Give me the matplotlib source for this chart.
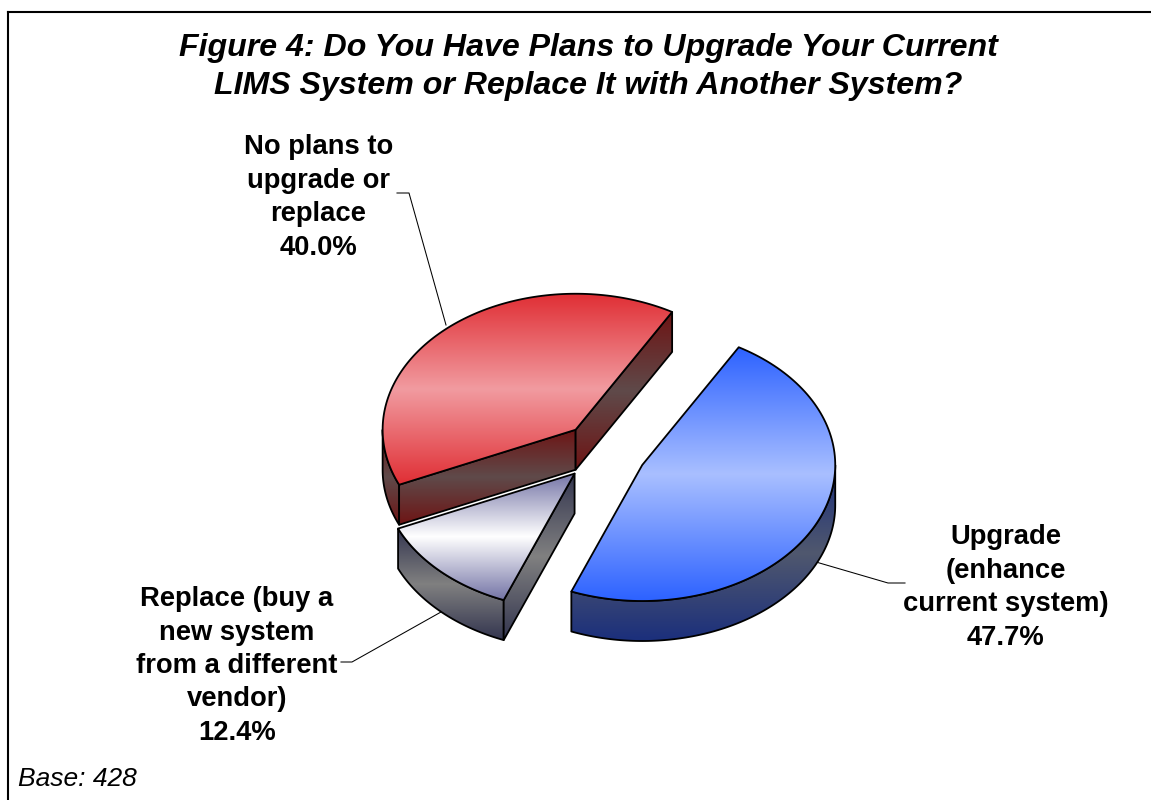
import matplotlib
matplotlib.use('Agg')
import matplotlib.pyplot as plt
import numpy as np
from matplotlib.colors import LinearSegmentedColormap
from matplotlib.patches import Polygon

plt.rcParams['font.family'] = ['Liberation Sans', 'DejaVu Sans']

title = 'Figure 4: Do You Have Plans to Upgrade Your Current\nLIMS System or Replace It with Another System?'
base_note = 'Base: 428'

# slices run clockwise from the start angle
labels = ['Upgrade\n(enhance\ncurrent system)',
          'Replace (buy a\nnew system\nfrom a different\nvendor)',
          'No plans to\nupgrade or\nreplace']
values = [47.7, 12.4, 40.0]
top_colors = [['#2d62ff', '#a9bfff', '#2d62ff'],
              ['#7474a6', '#ffffff', '#7474a6'],
              ['#e02e34', '#f19ba0', '#e02e34']]
side_colors = [['#1b2f7c', '#50586e', '#1b2f7c'],
               ['#33354f', '#808080', '#33354f'],
               ['#6e1414', '#5f4a4a', '#6e1414']]

cx, cy = 604, 452
rx, ry = 193, 136
depth = 40
explode = 0.22
start_angle = 60

label_pos = [(1005.5, 587.5), (237, 666), (318.5, 197.5)]
leaders = [[(816, 562), (888, 583), (905, 583)],
           [(441, 612), (352, 662), (341, 662)],
           [(446, 325), (409, 193), (397, 193)]]


def gradient_poly(ax, pts, colors, zorder):
    # vertical three stop gradient clipped to the polygon, then its outline
    cmap = LinearSegmentedColormap.from_list('g', colors)
    x0, x1 = pts[:, 0].min(), pts[:, 0].max()
    y0, y1 = pts[:, 1].min(), pts[:, 1].max()
    grad = np.linspace(0, 1, 256).reshape(-1, 1)
    im = ax.imshow(grad, cmap=cmap, extent=(x0, x1, y1, y0), aspect='auto', zorder=zorder,
                   interpolation='bilinear')
    clip = Polygon(pts, closed=True, transform=ax.transData)
    im.set_clip_path(clip)
    ax.add_patch(Polygon(pts, closed=True, fill=False, edgecolor='black', linewidth=1.3,
                         joinstyle='round', zorder=zorder + 0.5))


def arc(ox, oy, t0, t1):
    t = np.radians(np.linspace(t0, t1, 120))
    return np.column_stack([ox + rx * np.cos(t), oy - ry * np.sin(t)])


fig = plt.figure(figsize=(11.51, 8), dpi=100)
ax = fig.add_axes([0, 0, 1, 1])

for line in leaders:
    pts = np.array(line)
    ax.plot(pts[:, 0], pts[:, 1], color='black', linewidth=0.75, zorder=1)

angles = np.array(values) / sum(values) * 360
hi = start_angle
slices = []
for i in range(len(values)):
    slices.append((i, hi - angles[i], hi))
    hi -= angles[i]

# back slice first so the nearer ones paint over it
z = 2
for i, lo, hi in [slices[2], slices[1], slices[0]]:
    mid = np.radians((lo + hi) / 2)
    ox = cx + explode * rx * np.cos(mid)
    oy = cy - explode * ry * np.sin(mid)
    apex = np.array([ox, oy])
    drop = np.array([0, depth])

    # outer wall, only the part facing front
    for shift in (0, 360):
        l, h = max(lo + shift, 180), min(hi + shift, 360)
        if l < h:
            edge = arc(ox, oy, l, h)
            gradient_poly(ax, np.vstack([edge, (edge + drop)[::-1]]), side_colors[i], z)
            z += 1

    # radial walls that face the viewer
    for t, visible in ((hi, np.cos(np.radians(hi)) < 0), (lo, np.cos(np.radians(lo)) > 0)):
        if visible:
            rim = arc(ox, oy, t, t)[0]
            gradient_poly(ax, np.array([apex, rim, rim + drop, apex + drop]), side_colors[i], z)
            z += 1

    gradient_poly(ax, np.vstack([apex, arc(ox, oy, lo, hi)]), top_colors[i], z)
    z += 1

    lx, ly = label_pos[i]
    ax.text(lx, ly, f'{labels[i]}\n{values[i]:.1f}%', ha='center', va='center', fontsize=19.7,
            fontweight='bold', linespacing=1.375, zorder=z)

ax.text(588, 67, title, ha='center', va='center', fontsize=23.1, fontweight='bold',
        fontstyle='italic', linespacing=1.345)
ax.text(18, 779, base_note, ha='left', va='center', fontsize=19, fontstyle='italic')

# frame around the exhibit
ax.plot([8, 8], [800, 12], color='black', linewidth=1.5, zorder=1)
ax.plot([8, 1151], [12, 12], color='black', linewidth=1.5, zorder=1)

ax.set_xlim(0, 1151)
ax.set_ylim(800, 0)
ax.axis('off')
fig.savefig('out.png', dpi=100)
